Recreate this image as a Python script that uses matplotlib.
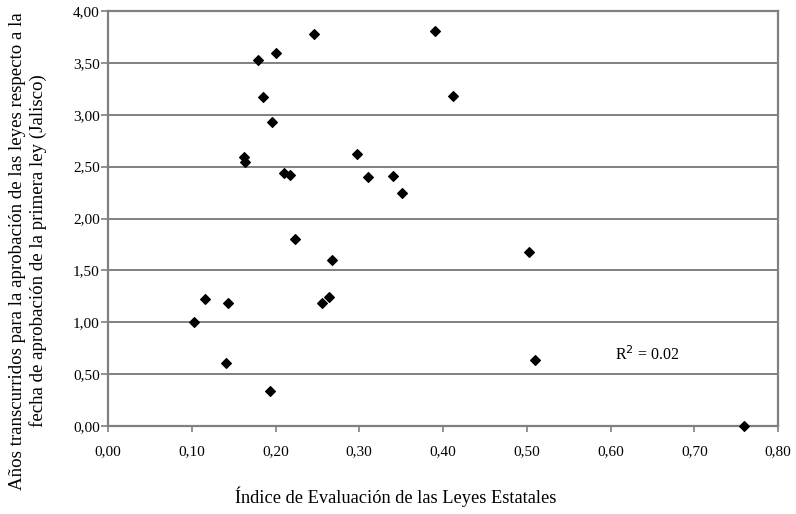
import matplotlib
matplotlib.use("Agg")
import matplotlib.pyplot as plt

plt.rcParams['font.family'] = ['Liberation Serif', 'DejaVu Serif']

# indice de evaluacion (x) vs anos transcurridos (y)
indice = [0.103, 0.116, 0.141, 0.143, 0.179, 0.201, 0.246, 0.390, 0.185, 0.196,
          0.162, 0.164, 0.210, 0.217, 0.297, 0.310, 0.340, 0.351, 0.223, 0.267,
          0.194, 0.256, 0.264, 0.412, 0.503, 0.510, 0.759]
anos = [1.00, 1.22, 0.61, 1.19, 3.53, 3.60, 3.78, 3.81, 3.17, 2.93,
        2.59, 2.54, 2.44, 2.42, 2.62, 2.40, 2.41, 2.25, 1.80, 1.60,
        0.34, 1.19, 1.24, 3.18, 1.68, 0.64, 0.00]

xticks = [0.0, 0.1, 0.2, 0.3, 0.4, 0.5, 0.6, 0.7, 0.8]
xlabels = ['0,00', '0,10', '0,20', '0,30', '0,40', '0,50', '0,60', '0,70', '0,80']
yticks = [0.0, 0.5, 1.0, 1.5, 2.0, 2.5, 3.0, 3.5, 4.0]
ylabels = ['0,00', '0,50', '1,00', '1,50', '2,00', '2,50', '3,00', '3,50', '4,00']

fig = plt.figure(figsize=(7.96, 5.14), dpi=100)
ax = fig.add_axes([108/796, 1-426/514, 670/796, 415/514])

ax.scatter(indice, anos, marker='D', s=24, color='black', zorder=3, clip_on=False)

ax.set_xlim(0, 0.8)
ax.set_ylim(0, 4)
ax.set_xticks(xticks)
ax.set_xticklabels(xlabels, fontsize=11)
ax.set_yticks(yticks)
ax.set_yticklabels(ylabels, fontsize=11)
ax.yaxis.grid(True, color='#808080', linewidth=1.4)
ax.set_axisbelow(True)
for s in ax.spines.values():
    s.set_color('#808080')
    s.set_linewidth(1.6)
ax.tick_params(axis='x', direction='out', length=4, color='#808080', width=1.2, pad=10)
ax.tick_params(axis='y', direction='out', length=5, color='#808080', width=1.2, pad=1)

ax.text(0.605, 0.684, 'R$^2$ = 0.02', fontsize=11.5, va='center', ha='left')

fig.text(396/796, 1-497/514, 'Índice de Evaluación de las Leyes Estatales',
         fontsize=13.2, ha='center', va='center')
fig.text(28/796, 1-251/514,
         'Años transcurridos para la aprobación de las leyes respecto a la\n'
         'fecha de aprobación de la primera ley (Jalisco)',
         fontsize=13.6, ha='center', va='center', rotation=90, multialignment='center')

fig.savefig('out.png', dpi=100)
